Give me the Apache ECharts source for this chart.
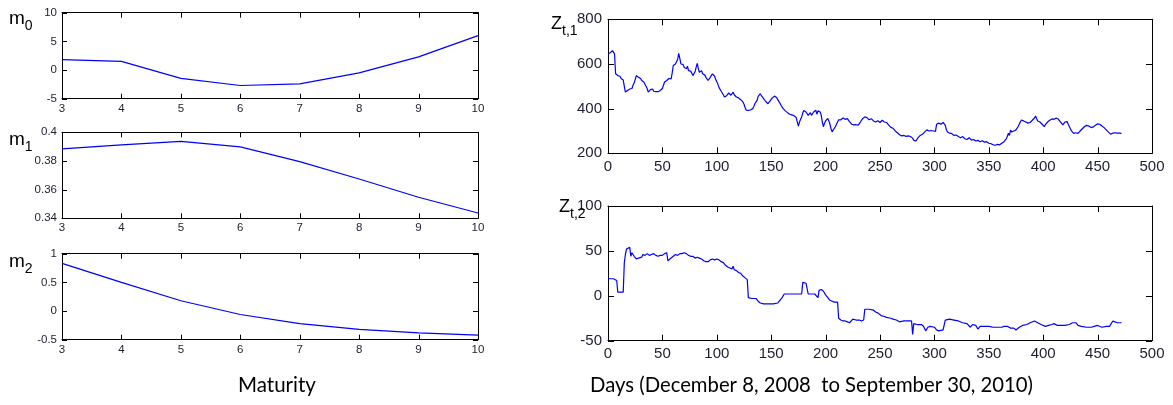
<!DOCTYPE html>
<html>
<head>
<meta charset="utf-8">
<script src="https://cdn.jsdelivr.net/npm/echarts@6/dist/echarts.min.js"></script>
<style>
html,body{margin:0;padding:0;background:#fff;}
#c{width:1173px;height:405px;}
</style>
</head>
<body>
<div id="c"></div>
<script>
// ---------- data ----------
const maturity = [3, 4, 5, 6, 7, 8, 9, 10];
const m0 = [1.8, 1.5, -1.45, -2.7, -2.4, -0.5, 2.3, 6.0];
const m1 = [0.3884, 0.3912, 0.3937, 0.3898, 0.3795, 0.3674, 0.3547, 0.3437];
const m2 = [0.83, 0.50, 0.18, -0.06, -0.22, -0.32, -0.38, -0.42];

const m0Ticks = [-5, 0, 5, 10];
const m1Ticks = [0.34, 0.36, 0.38, 0.4];
const m2Ticks = [-0.5, 0, 0.5, 1];
const maturityTicks = [3, 4, 5, 6, 7, 8, 9, 10];
const dayTicks = [0, 50, 100, 150, 200, 250, 300, 350, 400, 450, 500];
const z1Ticks = [200, 400, 600, 800];
const z2Ticks = [-50, 0, 50, 100];

// Z_{t,1}: [day, value]
const z1 = [
[0,645],[1,652],[2,650],[3,658],[4,660],[5,662],[6,645],[7,556],[8,552],[9,548],[10,552],[11,545],[12,535],[13,533],[14,528],[15,500],[16,474],[17,470],[18,481],[19,478],[20,488],[21,496],[22,490],[23,505],[24,515],[25,530],[26,548],[27,556],[28,540],[29,545],[30,535],[31,526],[32,530],[33,518],[34,511],[35,500],[36,490],[37,474],[38,478],[39,485],[40,481],[41,488],[42,478],[43,484],[44,476],[45,470],[46,476],[47,480],[48,481],[49,486],[50,490],[51,505],[52,519],[53,515],[54,526],[55,533],[56,535],[57,530],[58,533],[59,560],[60,593],[61,596],[62,600],[63,607],[64,620],[65,647],[66,625],[67,600],[68,593],[69,598],[70,585],[71,590],[72,578],[73,590],[74,570],[75,563],[76,568],[77,560],[78,548],[79,556],[80,565],[81,585],[82,603],[83,580],[84,563],[85,566],[86,570],[87,556],[88,558],[89,550],[90,540],[91,535],[92,526],[93,532],[94,540],[95,548],[96,556],[97,552],[98,545],[99,530],[100,526],[101,510],[102,495],[103,489],[104,478],[105,470],[106,462],[107,452],[108,455],[109,458],[110,462],[111,470],[112,467],[113,460],[114,466],[115,474],[116,462],[117,456],[118,452],[119,455],[120,448],[121,445],[122,440],[123,437],[124,430],[125,420],[126,405],[127,393],[128,395],[129,392],[130,396],[131,394],[132,393],[133,400],[134,410],[135,422],[136,430],[137,437],[138,455],[139,462],[140,467],[141,458],[142,450],[143,445],[144,437],[145,432],[146,428],[147,422],[148,428],[149,435],[150,442],[151,448],[152,452],[153,456],[154,458],[155,450],[156,440],[157,432],[158,425],[159,415],[160,407],[161,400],[162,395],[163,390],[164,385],[165,382],[166,378],[167,375],[168,372],[169,372],[170,370],[171,368],[172,365],[173,360],[174,340],[175,322],[176,340],[177,352],[178,363],[179,380],[180,392],[181,400],[182,385],[183,378],[184,370],[185,378],[186,382],[187,370],[188,375],[189,385],[190,380],[191,393],[192,375],[193,390],[194,388],[195,385],[196,370],[197,340],[198,319],[199,335],[200,345],[201,350],[202,356],[203,345],[204,330],[205,310],[206,296],[207,305],[208,312],[209,319],[210,330],[211,340],[212,350],[213,356],[214,350],[215,352],[216,358],[217,355],[218,352],[219,356],[220,355],[221,350],[222,342],[223,335],[224,330],[225,326],[226,327],[227,326],[228,328],[229,325],[230,326],[231,332],[232,340],[233,348],[234,355],[235,360],[236,363],[237,358],[238,360],[239,355],[240,350],[241,345],[242,355],[243,350],[244,345],[245,348],[246,340],[247,341],[248,346],[249,345],[250,338],[251,340],[252,348],[253,345],[254,340],[255,335],[256,338],[257,330],[258,326],[259,320],[260,316],[261,310],[262,312],[263,305],[264,300],[265,295],[266,292],[267,285],[268,283],[269,280],[270,278],[271,275],[272,280],[273,278],[274,276],[275,275],[276,278],[277,272],[278,275],[279,278],[280,268],[281,258],[282,265],[283,255],[284,262],[285,270],[286,275],[287,280],[288,278],[289,285],[290,290],[291,295],[292,292],[293,305],[294,300],[295,300],[296,305],[297,302],[298,298],[299,300],[300,302],[301,298],[302,330],[303,335],[304,335],[305,328],[306,330],[307,336],[308,338],[309,330],[310,325],[311,305],[312,295],[313,292],[314,290],[315,292],[316,288],[317,285],[318,280],[319,283],[320,282],[321,278],[322,275],[323,272],[324,270],[325,276],[326,275],[327,270],[328,265],[329,268],[330,262],[331,265],[332,270],[333,262],[334,259],[335,265],[336,262],[337,258],[338,255],[339,260],[340,258],[341,255],[342,252],[343,258],[344,256],[345,252],[346,250],[347,254],[348,252],[349,248],[350,245],[351,247],[352,243],[353,240],[354,238],[355,240],[356,236],[357,238],[358,240],[359,237],[360,238],[361,242],[362,245],[363,248],[364,252],[365,258],[366,265],[367,275],[368,290],[369,280],[370,304],[371,295],[372,290],[373,300],[374,296],[375,305],[376,310],[377,320],[378,330],[379,340],[380,349],[381,345],[382,345],[383,342],[384,340],[385,338],[386,335],[387,327],[388,338],[389,345],[390,348],[391,350],[392,358],[393,367],[394,355],[395,345],[396,343],[397,340],[398,335],[399,330],[400,325],[401,319],[402,328],[403,335],[404,340],[405,345],[406,348],[407,350],[408,354],[409,357],[410,352],[411,350],[412,358],[413,362],[414,352],[415,345],[416,340],[417,335],[418,327],[419,335],[420,340],[421,338],[422,342],[423,330],[424,320],[425,310],[426,300],[427,295],[428,289],[429,292],[430,292],[431,290],[432,289],[433,295],[434,300],[435,305],[436,310],[437,315],[438,320],[439,322],[440,325],[441,327],[442,322],[443,318],[444,315],[445,312],[446,318],[447,322],[448,326],[449,330],[450,332],[451,334],[452,330],[453,325],[454,322],[455,318],[456,315],[457,312],[458,305],[459,300],[460,295],[461,290],[462,286],[463,282],[464,290],[465,295],[466,292],[467,297],[468,290],[469,285],[470,290],[471,292],[472,289]
];

// Z_{t,2}: [day, value]
const z2 = [
[0,19],[5,19],[8,17],[9,4],[14,4],[15,37],[16,46],[17,52],[18,54],[20,54],[21,44],[22,48],[23,49],[24,44],[26,41],[28,42],[29,44],[31,43],[32,46],[34,45],[36,47],[38,45],[40,46],[42,47],[44,45],[46,44],[48,45],[50,45],[52,47],[54,48],[55,39],[56,40],[58,42],[60,44],[62,46],[64,45],[66,47],[68,47],[70,48],[72,47],[74,45],[76,44],[78,44],[80,42],[82,43],[84,42],[86,41],[88,39],[90,38],[92,38],[94,40],[96,41],[98,40],[100,41],[102,40],[104,38],[106,37],[108,34],[110,32],[112,31],[114,30],[115,33],[116,29],[118,28],[120,26],[122,25],[124,22],[126,20],[128,18],[129,-2],[132,-3],[136,-3],[138,-6],[140,-8],[143,-9],[148,-9],[152,-9],[156,-8],[158,-5],[160,-2],[162,2],[165,2],[170,2],[175,2],[178,2],[179,15],[182,14],[183,12],[184,2],[186,2],[190,2],[193,-2],[194,6],[196,7],[198,5],[200,1],[202,-2],[204,-5],[206,-6],[208,-7],[211,-7],[212,-25],[214,-27],[216,-28],[218,-28],[220,-29],[222,-30],[223,-28],[225,-26],[228,-27],[231,-27],[233,-28],[235,-27],[236,-15],[240,-15],[244,-16],[246,-18],[248,-19],[251,-22],[254,-23],[256,-24],[260,-25],[262,-26],[265,-27],[268,-29],[272,-28],[276,-28],[279,-28],[280,-43],[281,-31],[284,-32],[288,-32],[290,-34],[292,-39],[294,-35],[296,-34],[300,-35],[302,-38],[304,-39],[308,-38],[310,-27],[314,-26],[318,-27],[322,-28],[326,-30],[330,-31],[333,-35],[335,-32],[338,-33],[340,-37],[342,-34],[346,-34],[350,-34],[354,-35],[358,-35],[362,-35],[364,-34],[367,-34],[370,-36],[373,-36],[375,-38],[378,-35],[381,-33],[385,-32],[388,-30],[392,-28],[395,-30],[398,-32],[402,-34],[405,-33],[408,-32],[410,-31],[413,-33],[416,-33],[420,-33],[424,-32],[427,-30],[430,-30],[432,-33],[435,-34],[440,-35],[444,-35],[447,-34],[450,-33],[454,-35],[458,-34],[461,-34],[462,-33],[464,-28],[466,-29],[468,-30],[472,-30]
];

// ---------- build ----------
const labelColor = '#1e1e30';
const grids = [], xAxes = [], yAxes = [], series = [];

function addPanel(box, xt, yt, data, fs, tickLen) {
  const gi = grids.length;
  grids.push({left: box[0], top: box[1], width: box[2], height: box[3], show: false});
  const xmin = xt[0], xmax = xt[xt.length - 1], xint = xt[1] - xt[0];
  const ymin = yt[0], ymax = yt[yt.length - 1], yint = yt[1] - yt[0];
  const line = {show: true, onZero: false, lineStyle: {color: '#000', width: 1}};
  const lab = {fontSize: fs, color: labelColor, fontFamily: 'Liberation Sans, Arial, sans-serif',
    showMinLabel: true, showMaxLabel: true};
  xAxes.push({type: 'value', gridIndex: gi, position: 'bottom', min: xmin, max: xmax, interval: xint,
    axisLine: line, splitLine: {show: false}, axisTick: {show: false},
    axisLabel: Object.assign({margin: fs > 12 ? 6 : 4}, lab)});
  xAxes.push({type: 'value', gridIndex: gi, position: 'top', min: xmin, max: xmax, interval: xint,
    axisLine: line, splitLine: {show: false}, axisTick: {show: false}, axisLabel: {show: false}});
  yAxes.push({type: 'value', gridIndex: gi, position: 'left', min: ymin, max: ymax, interval: yint,
    axisLine: line, splitLine: {show: false}, axisTick: {show: false},
    axisLabel: Object.assign({margin: fs > 12 ? 6 : 5, formatter: v => String(+v.toFixed(4))}, lab)});
  yAxes.push({type: 'value', gridIndex: gi, position: 'right', min: ymin, max: ymax, interval: yint,
    axisLine: line, splitLine: {show: false}, axisTick: {show: false}, axisLabel: {show: false}});
  series.push({type: 'line', xAxisIndex: 2 * gi, yAxisIndex: 2 * gi, data: data,
    showSymbol: false, symbol: 'none', lineStyle: {color: '#0000ff', width: 1.2}, silent: true, z: 3});

  const tickStyle = {stroke: '#000', lineWidth: 1};
  const snap = v => Math.round(v) + 0.5;
  // inside ticks on bottom & top edges, placed by the axis scale
  series.push({type: 'custom', xAxisIndex: 2 * gi, yAxisIndex: 2 * gi, silent: true, clip: false, z: 4,
    data: xt.map(v => [v, ymin]),
    renderItem: (params, api) => {
      const pb = api.coord([api.value(0), ymin]);
      const pt = api.coord([api.value(0), ymax]);
      const x = snap(pb[0]);
      return {type: 'group', children: [
        {type: 'line', shape: {x1: x, y1: pb[1], x2: x, y2: pb[1] - tickLen}, style: tickStyle},
        {type: 'line', shape: {x1: x, y1: pt[1], x2: x, y2: pt[1] + tickLen}, style: tickStyle}
      ]};
    }});
  // inside ticks on left & right edges
  series.push({type: 'custom', xAxisIndex: 2 * gi, yAxisIndex: 2 * gi, silent: true, clip: false, z: 4,
    data: yt.map(v => [xmin, v]),
    renderItem: (params, api) => {
      const pl = api.coord([xmin, api.value(1)]);
      const pr = api.coord([xmax, api.value(1)]);
      const y = snap(pl[1]);
      return {type: 'group', children: [
        {type: 'line', shape: {x1: pl[0], y1: y, x2: pl[0] + tickLen, y2: y}, style: tickStyle},
        {type: 'line', shape: {x1: pr[0], y1: y, x2: pr[0] - tickLen, y2: y}, style: tickStyle}
      ]};
    }});
}

const zip = (a, b) => a.map((v, i) => [v, b[i]]);
addPanel([62, 12.7, 416, 86], maturityTicks, m0Ticks, zip(maturity, m0), 11.5, 5);
addPanel([62, 132.3, 416, 86], maturityTicks, m1Ticks, zip(maturity, m1), 11.5, 5);
addPanel([62, 253.7, 416, 86], maturityTicks, m2Ticks, zip(maturity, m2), 11.5, 5);
addPanel([608, 19.3, 544, 134], dayTicks, z1Ticks, z1, 15, 6);
addPanel([608, 206, 544, 134.7], dayTicks, z2Ticks, z2, 15, 6);

const FF = 'Liberation Sans, Arial, sans-serif';
function subLabel(main, sub, left, top, fsMain, fsSub) {
  return {text: '{a|' + main + '}{b|' + sub + '}', left: left, top: top,
    textStyle: {fontWeight: 'normal', rich: {
      a: {fontSize: fsMain, color: '#000', fontFamily: FF, fontWeight: 'normal', verticalAlign: 'bottom', lineHeight: fsMain + 2},
      b: {fontSize: fsSub, color: '#000', fontFamily: FF, fontWeight: 'normal', verticalAlign: 'bottom', padding: [0, 0, -5, 0], lineHeight: fsMain + 2}
    }}};
}

const titles = [
  subLabel('m', '0', 9, 7, 19, 14),
  subLabel('m', '1', 9, 128, 19, 14),
  subLabel('m', '2', 9, 250, 19, 14),
  subLabel('Z', 't,1', 551, 13, 18, 14),
  subLabel('Z', 't,2', 559, 196, 18, 14),
  {text: 'Maturity', left: 238, top: 375, textStyle: {fontSize: 20.5, fontWeight: 'normal', color: '#000', fontFamily: 'Lato, sans-serif'}},
  {text: 'Days (December 8, 2008  to September 30, 2010)', left: 590, top: 375, textStyle: {fontSize: 20.3, fontWeight: 'normal', color: '#000', fontFamily: 'Lato, sans-serif'}}
];
titles.forEach(t => { t.padding = 0; });

const chart = echarts.init(document.getElementById('c'), null, {renderer: 'canvas'});
chart.setOption({
  animation: false,
  backgroundColor: '#fff',
  title: titles,
  grid: grids,
  xAxis: xAxes,
  yAxis: yAxes,
  series: series
});
</script>
</body>
</html>
